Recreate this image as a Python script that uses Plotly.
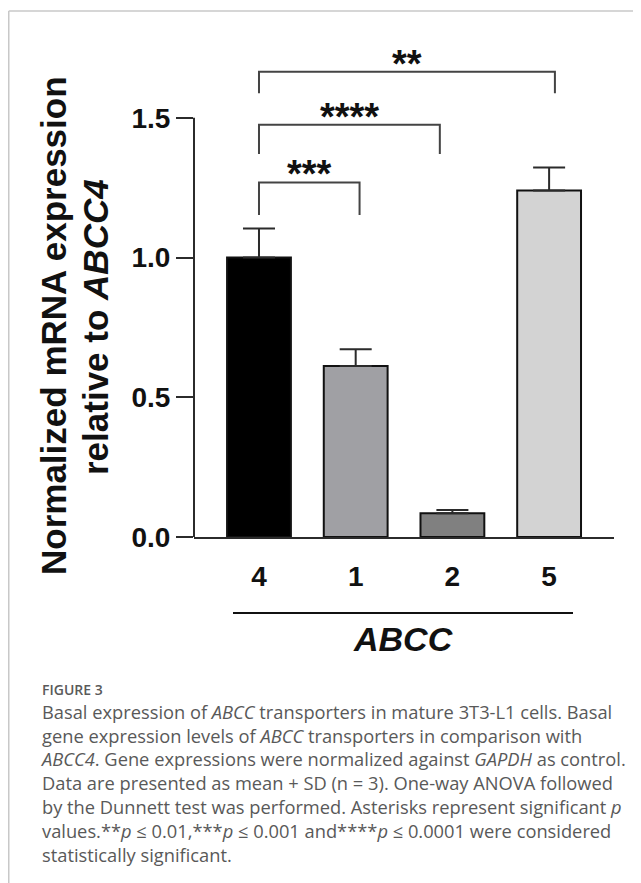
import plotly.graph_objects as go

# ---------------- data ----------------
categories = ["4", "1", "2", "5"]
means = [1.00, 0.612, 0.085, 1.240]
sds = [0.104, 0.060, 0.012, 0.082]
bar_colors = ["#000000", "#a0a0a4", "#808080", "#d3d3d3"]

# significance brackets
br_left = [0, 0, 0]
br_right = [1.04, 1.87, 3.06]
br_top = [1.269, 1.475, 1.665]
br_leg = [1.152, 1.371, 1.588]
br_labels = ["***", "****", "**"]

caption_title = "FIGURE 3"
caption_lines = [
    "Basal expression of <i>ABCC</i> transporters in mature 3T3-L1 cells. Basal",
    "gene expression levels of <i>ABCC</i> transporters in comparison with",
    "<i>ABCC4</i>. Gene expressions were normalized against <i>GAPDH</i> as control.",
    "Data are presented as mean + SD (n = 3). One-way ANOVA followed",
    "by the Dunnett test was performed. Asterisks represent significant <i>p</i>",
    "values.**<i>p</i> ≤ 0.01,***<i>p</i> ≤ 0.001 and****<i>p</i> ≤ 0.0001 were considered",
    "statistically significant.",
]

# ---------------- layout geometry (page has an 8px body margin) ----------------
OFF = 8
W, Hh = 641 - OFF, 883 - OFF
L, R, T, B = 194 - OFF, 614 - OFF, 34 - OFF, 537 - OFF
PW, PH = R - L, B - T


def xp(sx):  # screen px -> paper
    return (sx - OFF - L) / PW


def yp(sy):
    return (B - (sy - OFF)) / PH


AX = "#2b2b2b"
FONT = "Liberation Sans, Arial, sans-serif"
CAPFONT = "Open Sans, sans-serif"

fig = go.Figure()
fig.add_trace(go.Bar(
    x=list(range(len(categories))),
    y=means,
    width=0.66,
    marker=dict(color=bar_colors, line=dict(color="#111111", width=2)),
    error_y=dict(type="data", symmetric=False, array=sds,
                 arrayminus=[0] * len(sds), color=AX, thickness=2, width=16),
    showlegend=False,
))

shapes = []
annotations = []

# brackets
for l, r, t, b, lab in zip(br_left, br_right, br_top, br_leg, br_labels):
    shapes.append(dict(type="path", xref="x", yref="y",
                       path=f"M {l},{b} L {l},{t} L {r},{t} L {r},{b}",
                       line=dict(color="#444444", width=2)))
    annotations.append(dict(x=(l + r) / 2, y=t, xref="x", yref="y",
                            text=f"<b>{lab}</b>", showarrow=False,
                            yanchor="bottom", yshift=-15,
                            font=dict(family=FONT, size=38, color="#111111")))

# y axis line (only up to 1.5)
shapes.append(dict(type="line", xref="paper", yref="y", x0=0, x1=0, y0=0, y1=1.5,
                   line=dict(color=AX, width=2)))

# underline below categories
shapes.append(dict(type="line", xref="paper", yref="paper",
                   x0=xp(233), x1=xp(573), y0=yp(613), y1=yp(613),
                   line=dict(color="#111111", width=2)))

# frame lines
shapes.append(dict(type="line", xref="paper", yref="paper",
                   x0=xp(8.75), x1=xp(641), y0=yp(11), y1=yp(11),
                   line=dict(color="#c8c8c8", width=1.5)))
shapes.append(dict(type="line", xref="paper", yref="paper",
                   x0=xp(8.75), x1=xp(8.75), y0=yp(11), y1=yp(883),
                   line=dict(color="#c8c8c8", width=1.5)))

# y axis title (two lines)
annotations.append(dict(x=xp(53), y=yp(326), xref="paper", yref="paper",
                        text="<b>Normalized mRNA expression</b>", textangle=-90,
                        showarrow=False, xanchor="center", yanchor="middle",
                        font=dict(family=FONT, size=35, color="#111111")))
annotations.append(dict(x=xp(95), y=yp(327), xref="paper", yref="paper",
                        text="<b>relative to <i>ABCC4</i></b>", textangle=-90,
                        showarrow=False, xanchor="center", yanchor="middle",
                        font=dict(family=FONT, size=35, color="#111111")))

# x group label
annotations.append(dict(x=xp(403), y=yp(639), xref="paper", yref="paper",
                        text="<b><i>ABCC</i></b>", showarrow=False,
                        xanchor="center", yanchor="middle",
                        font=dict(family=FONT, size=34, color="#111111")))

# caption (title line + body in one text block)
title_html = ("<span style='font-size:14px;font-weight:600;color:#5a5a5a'>"
              + caption_title + "</span>")
annotations.append(dict(x=xp(38), y=yp(773), xref="paper", yref="paper",
                        text="<br>".join([title_html] + caption_lines), showarrow=False,
                        xanchor="left", yanchor="middle", align="left",
                        font=dict(family=CAPFONT, size=18.3, color="#595959")))

fig.update_layout(
    width=W, height=Hh,
    margin=dict(l=L, r=W - R, t=T, b=Hh - B, pad=0),
    paper_bgcolor="white", plot_bgcolor="white",
    xaxis=dict(range=[-0.672, 3.671], tickvals=list(range(len(categories))),
               ticktext=categories, showline=True, linecolor=AX, linewidth=2,
               ticks="outside", ticklen=13, tickcolor="rgba(0,0,0,0)",
               showgrid=False, zeroline=False,
               tickfont=dict(family=FONT, size=28, color="#111111", weight="bold")),
    yaxis=dict(range=[0, 1.8], tickvals=[0, 0.5, 1.0, 1.5],
               ticktext=["0.0", "0.5", "1.0", "1.5"], showline=False,
               ticks="outside", ticklen=17, tickwidth=2, tickcolor=AX,
               showgrid=False, zeroline=False,
               tickfont=dict(family=FONT, size=28, color="#111111", weight="bold")),
    shapes=shapes,
    annotations=annotations,
)

fig.write_html("out.html")
